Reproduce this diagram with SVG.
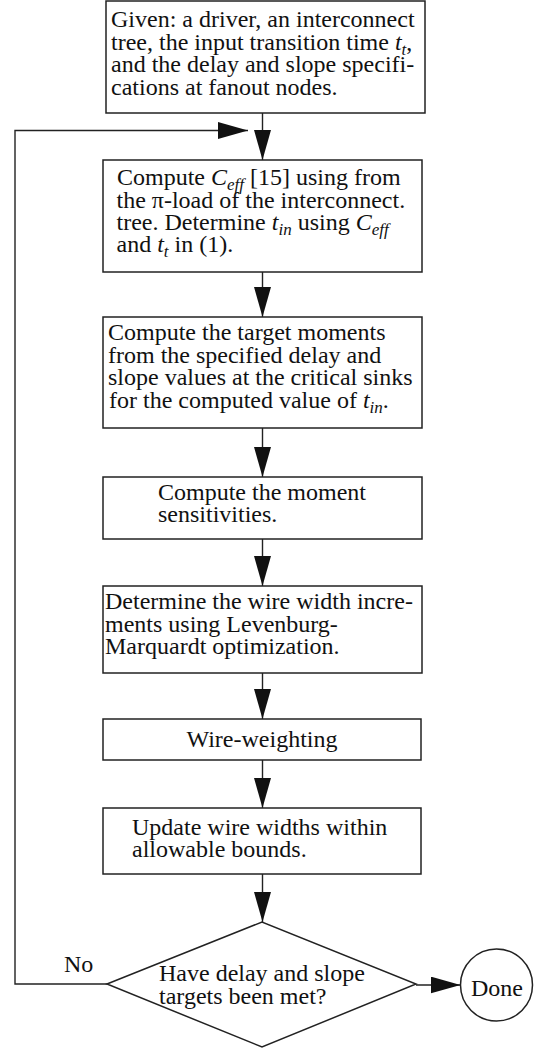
<svg xmlns="http://www.w3.org/2000/svg" width="534" height="1050" viewBox="0 0 534 1050">
<style>
.box{fill:#fff;stroke:#222;stroke-width:1.5}
.t{font-family:"Liberation Serif","Times New Roman",serif;font-size:24px;fill:#111}
.i{font-style:italic}
.s{font-size:17px;font-style:italic}
.ln{stroke:#222;stroke-width:1.4;fill:none}
</style>
<defs>
<marker id="ah" markerUnits="userSpaceOnUse" markerWidth="30" markerHeight="17" refX="30" refY="8.5" orient="auto">
<path d="M0,0 L30,8.5 L0,17 z" fill="#111"/>
</marker>
</defs>
<rect width="534" height="1050" fill="#fff"/>
<g id="connectors">
<path class="ln" d="M262.5,113 V160" marker-end="url(#ah)"/>
<path class="ln" d="M107,984 H15 V130.5 H248" marker-end="url(#ah)"/>
<path class="ln" d="M262.5,272 V317" marker-end="url(#ah)"/>
<path class="ln" d="M262.5,428 V477" marker-end="url(#ah)"/>
<path class="ln" d="M262.5,539 V586" marker-end="url(#ah)"/>
<path class="ln" d="M262.5,673 V719" marker-end="url(#ah)"/>
<path class="ln" d="M262.5,760 V808" marker-end="url(#ah)"/>
<path class="ln" d="M262.5,874 V922" marker-end="url(#ah)"/>
<path class="ln" d="M416,985 H460.5" marker-end="url(#ah)"/>
</g>
<g id="n1">
<rect class="box" x="106" y="1" width="319" height="112"/>
<text class="t" x="111" y="27">Given: a driver, an interconnect</text>
<text class="t" x="111" y="49.5">tree, the input transition time <tspan class="i">t</tspan><tspan class="s" dy="5">t</tspan><tspan dy="-5">,</tspan></text>
<text class="t" x="111" y="72">and the delay and slope specifi-</text>
<text class="t" x="111" y="94.5">cations at fanout nodes.</text>
</g>
<g id="n2">
<rect class="box" x="103" y="160" width="319" height="112"/>
<text class="t" x="117" y="185">Compute <tspan class="i">C</tspan><tspan class="s" dy="5">eff</tspan><tspan dy="-5"> [15] using from</tspan></text>
<text class="t" x="116.5" y="207.5">the π-load of the interconnect.</text>
<text class="t" x="116.5" y="230">tree. Determine <tspan class="i">t</tspan><tspan class="s" dy="5">in</tspan><tspan dy="-5"> using </tspan><tspan class="i">C</tspan><tspan class="s" dy="5">eff</tspan></text>
<text class="t" x="116.5" y="252">and <tspan class="i">t</tspan><tspan class="s" dy="5">t</tspan><tspan dy="-5"> in (1).</tspan></text>
</g>
<g id="n3">
<rect class="box" x="103" y="317" width="319" height="111"/>
<text class="t" x="108" y="340">Compute the target moments</text>
<text class="t" x="108" y="362.5">from the specified delay and</text>
<text class="t" x="108" y="385">slope values at the critical sinks</text>
<text class="t" x="109" y="407.5">for the computed value of <tspan class="i">t</tspan><tspan class="s" dy="5">in</tspan><tspan dy="-5">.</tspan></text>
</g>
<g id="n4">
<rect class="box" x="103" y="477" width="319" height="62"/>
<text class="t" x="158" y="500">Compute the moment</text>
<text class="t" x="158" y="522">sensitivities.</text>
</g>
<g id="n5">
<rect class="box" x="103" y="586" width="319" height="87"/>
<text class="t" x="105" y="609">Determine the wire width incre-</text>
<text class="t" x="105" y="631.5">ments using Levenburg-</text>
<text class="t" x="105" y="654">Marquardt optimization.</text>
</g>
<g id="n6">
<rect class="box" x="103" y="719" width="318" height="41"/>
<text class="t" x="262" y="747" text-anchor="middle">Wire-weighting</text>
</g>
<g id="n7">
<rect class="box" x="103" y="808" width="318" height="66"/>
<text class="t" x="132" y="834.5">Update wire widths within</text>
<text class="t" x="132" y="857">allowable bounds.</text>
</g>
<g id="n8">
<path class="box" d="M107,984 L262,922 L416,984 L262,1047 z"/>
<text class="t" x="159" y="981">Have delay and slope</text>
<text class="t" x="159" y="1003.5">targets been met?</text>
</g>
<g id="n9">
<circle class="box" cx="496.5" cy="985" r="36"/>
<text class="t" x="471" y="996">Done</text>
</g>
<g id="label-no">
<text class="t" x="64" y="972">No</text>
</g>
</svg>
